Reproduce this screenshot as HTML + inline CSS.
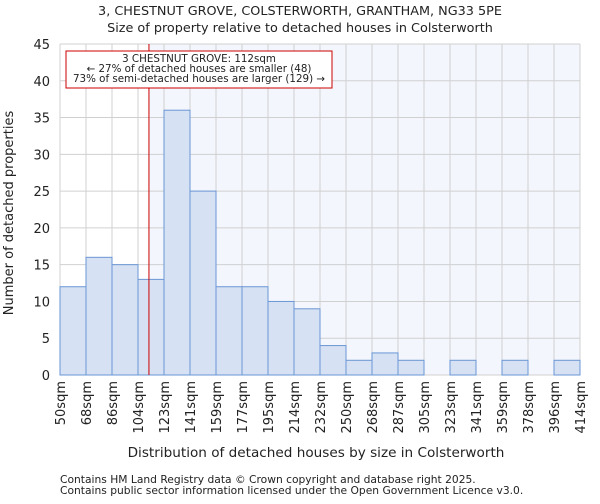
<!DOCTYPE html>
<html><head><meta charset="utf-8"><style>
body{margin:0;background:#fff;font-family:"DejaVu Sans","Liberation Sans",sans-serif}
svg text{font-family:"DejaVu Sans","Liberation Sans",sans-serif;fill:#222}
</style></head><body>
<svg id="c" width="600" height="500">
<text x="300" y="15" text-anchor="middle" font-size="12.8">3, CHESTNUT GROVE, COLSTERWORTH, GRANTHAM, NG33 5PE</text>
<text x="300" y="32" text-anchor="middle" font-size="12.8">Size of property relative to detached houses in Colsterworth</text>
<g id="plot"></g>
<text x="316" y="457" text-anchor="middle" font-size="13.6">Distribution of detached houses by size in Colsterworth</text>
<text transform="translate(13,213) rotate(-90)" text-anchor="middle" font-size="13">Number of detached properties</text>
<text x="60" y="483" font-size="10.7" fill="#444">Contains HM Land Registry data © Crown copyright and database right 2025.</text>
<text x="60" y="494" font-size="10.7" fill="#444">Contains public sector information licensed under the Open Government Licence v3.0.</text>
</svg>
<script>
const categories=["50sqm","68sqm","86sqm","104sqm","123sqm","141sqm","159sqm","177sqm","195sqm","214sqm","232sqm","250sqm","268sqm","287sqm","305sqm","323sqm","341sqm","359sqm","378sqm","396sqm","414sqm"];
const binEdges=[50,68,86,104,123,141,159,177,195,214,232,250,268,287,305,323,341,359,378,396,414];
const counts=[12,16,15,13,36,25,12,12,10,9,4,2,3,2,0,2,0,2,0,2];
const yTicks=[0,5,10,15,20,25,30,35,40,45];
const subjectSize=112;
const NS="http://www.w3.org/2000/svg";
const L=60,R=580,T=44,B=375,yMax=45;
const nb=counts.length,bw=(R-L)/nb;
const y=v=>B-(v/yMax)*(B-T);
function xs(v){let i=0;while(i<binEdges.length-2&&v>binEdges[i+1])i++;return L+(i+(v-binEdges[i])/(binEdges[i+1]-binEdges[i]))*bw;}
const g=document.getElementById('plot');
function mk(t,a){const e=document.createElementNS(NS,t);for(const k in a)e.setAttribute(k,a[k]);g.appendChild(e);return e;}
const lx=xs(subjectSize);
let e=mk('rect',{x:lx,y:T,width:R-lx,height:B-T,fill:'#f3f6fd'});


yTicks.forEach(t=>{let l=mk('line',{x1:L,x2:R,y1:y(t),y2:y(t),stroke:'#d0d0d0','stroke-width':1});


let tx=mk('text',{x:L-10,y:y(t)+5,'text-anchor':'end','font-size':13});tx.textContent=t;

});
categories.forEach((c,i)=>{const x=L+i*bw;let l=mk('line',{x1:x,x2:x,y1:T,y2:B,stroke:'#d0d0d0','stroke-width':1});


let tx=mk('text',{transform:`translate(${x+5},${B+6}) rotate(-90)`,'text-anchor':'end','font-size':13});tx.textContent=c;

});
counts.forEach((v,i)=>{if(v<=0)return;let r=mk('rect',{x:L+i*bw,y:y(v),width:bw,height:B-y(v),fill:'#d6e1f4',stroke:'#6a96d4','stroke-width':1});

});
e=mk('line',{x1:lx,x2:lx,y1:T,y2:B,stroke:'#cc0000','stroke-width':1});


e=mk('rect',{x:66,y:51,width:266,height:37,fill:'#fff',stroke:'#cc0000','stroke-width':1});


["3 CHESTNUT GROVE: 112sqm","← 27% of detached houses are smaller (48)","73% of semi-detached houses are larger (129) →"].forEach((s,i)=>{let t=mk('text',{x:199,y:62+i*10,'text-anchor':'middle','font-size':10.3});t.textContent=s;

});
</script>
</body></html>
